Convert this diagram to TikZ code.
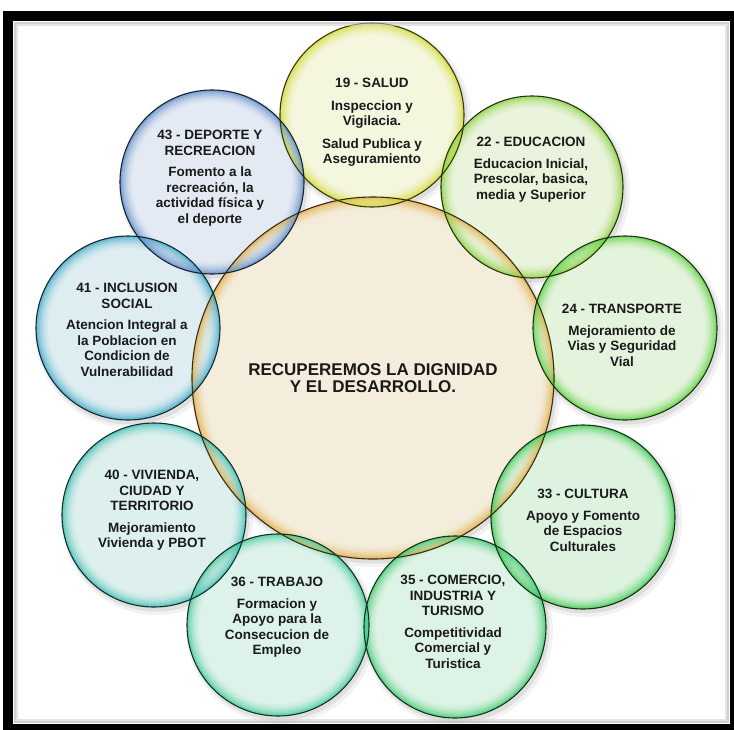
\documentclass[tikz,border=0pt]{standalone}
\usepackage{fontspec}
\setmainfont{Liberation Sans}
\definecolor{rimC}{HTML}{E2AE44}\definecolor{fillC}{HTML}{F4EDDC}
\definecolor{rimSal}{HTML}{D2DA2C}\definecolor{fillSal}{HTML}{F4F6DE}
\definecolor{rimEdu}{HTML}{88D03A}\definecolor{fillEdu}{HTML}{EAF3DC}
\definecolor{rimTra}{HTML}{58D03C}\definecolor{fillTra}{HTML}{E4F4DC}
\definecolor{rimCul}{HTML}{3CC84E}\definecolor{fillCul}{HTML}{DDF3E0}
\definecolor{rimCom}{HTML}{3CC86C}\definecolor{fillCom}{HTML}{DDF3E5}
\definecolor{rimTrb}{HTML}{3CC894}\definecolor{fillTrb}{HTML}{DDF3EA}
\definecolor{rimViv}{HTML}{3CBEB2}\definecolor{fillViv}{HTML}{DDF0EE}
\definecolor{rimInc}{HTML}{3CA6C6}\definecolor{fillInc}{HTML}{DDEDF2}
\definecolor{rimDep}{HTML}{5A8AC6}\definecolor{fillDep}{HTML}{E4EAF4}
\definecolor{txt}{HTML}{1A1A1A}
\tikzset{
  lbl/.style={align=center, inner sep=0pt, anchor=north, text=txt,
    font=\bfseries\fontsize{13.5}{15.5}\selectfont},
  mainlbl/.style={align=center, inner sep=0pt, anchor=north, text=txt,
    font=\bfseries\fontsize{17}{17}\selectfont},
  framebox/.style={draw=black, line width=10pt},
}
\def\bubbles{373/378/181/rimC/fillC, 372/115/92/rimSal/fillSal,
  532/187/91/rimEdu/fillEdu, 625/328/92/rimTra/fillTra,
  583/517/92/rimCul/fillCul, 455/627/91/rimCom/fillCom,
  278/625/91/rimTrb/fillTrb, 154/515/92/rimViv/fillViv,
  128/328/92/rimInc/fillInc, 212/182/92/rimDep/fillDep}
\begin{document}
\begin{tikzpicture}[x=1pt,y=-1pt]
\useasboundingbox (0,0) rectangle (734,729);
\fill[white] (0,0) rectangle (734,729);
% soft shadows
\foreach \x/\y/\r/\rc/\fc in \bubbles {
  \fill[black, opacity=0.05] (\x+3,\y+4) circle[radius=\r+4];
  \fill[black, opacity=0.08] (\x+2,\y+3) circle[radius=\r+1.5];
}
% fills
\foreach \x/\y/\r/\rc/\fc in \bubbles {
  \fill[\fc] (\x,\y) circle[radius=\r];
}
% inner glow rims
\foreach \x/\y/\r/\rc/\fc in \bubbles {
  \foreach \k/\op in {1/0.7, 3/0.5, 5/0.34, 7/0.21, 9/0.11, 11/0.05} {
    \draw[\rc, line width=2.2pt, draw opacity=\op] (\x,\y) circle[radius=\r-\k];
  }
}
% outlines
\foreach \x/\y/\r/\rc/\fc in \bubbles {
  \draw[\rc!25!black, line width=1.1pt] (\x,\y) circle[radius=\r];
}
% texts
\node[mainlbl] (centro) at (373,363) {RECUPEREMOS LA DIGNIDAD\\Y EL DESARROLLO.};
\node[lbl] (salud) at (372,78) {19 - SALUD\\[7pt]Inspeccion y\\Vigilacia.\\[7pt]Salud Publica y\\Aseguramiento};
\node[lbl] (educacion) at (531,137) {22 - EDUCACION\\[6pt]Educacion Inicial,\\Prescolar, basica,\\media y Superior};
\node[lbl] (transporte) at (622,304) {24 - TRANSPORTE\\[6pt]Mejoramiento de\\Vias y Seguridad\\Vial};
\node[lbl] (cultura) at (583,489) {33 - CULTURA\\[6pt]Apoyo y Fomento\\de Espacios\\Culturales};
\node[lbl] (comercio) at (453,575) {35 - COMERCIO,\\INDUSTRIA Y\\TURISMO\\[6pt]Competitividad\\Comercial y\\Turistica};
\node[lbl] (trabajo) at (277,577) {36 - TRABAJO\\[6pt]Formacion y\\Apoyo para la\\Consecucion de\\Empleo};
\node[lbl] (vivienda) at (152,470) {40 - VIVIENDA,\\CIUDAD Y\\TERRITORIO\\[6pt]Mejoramiento\\Vivienda y PBOT};
\node[lbl] (inclusion) at (127,283) {41 - INCLUSION\\SOCIAL\\[6pt]Atencion Integral a\\la Poblacion en\\Condicion de\\Vulnerabilidad};
\node[lbl] (deporte) at (210,130) {43 - DEPORTE Y\\RECREACION\\[6pt]Fomento a la\\recreación, la\\actividad física y\\el deporte};
% frame
\draw[black!30, line width=2pt, opacity=0.6] (15,23) rectangle (727.5,722);
\draw[black!18, line width=2pt, opacity=0.6] (17,25) rectangle (725.5,720);
\draw[framebox] (8,16) rectangle (734.5,729);
\end{tikzpicture}
\end{document}
